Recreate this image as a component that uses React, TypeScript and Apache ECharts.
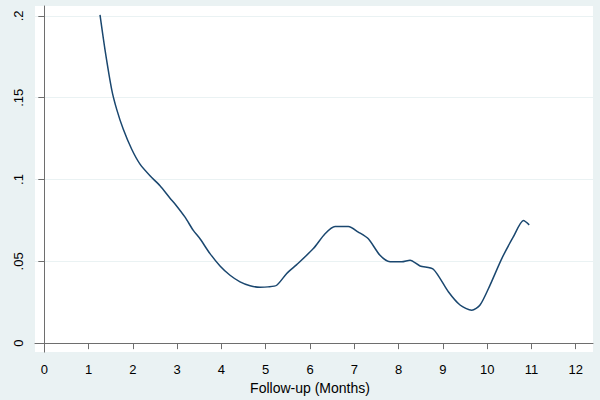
import React, { useEffect, useRef } from "react";
import * as echarts from "echarts";

const months = [
  1.258, 1.371, 1.522, 1.635, 1.784, 1.974, 2.161, 2.387, 2.613, 2.839, 2.952,
  3.178, 3.365, 3.516, 3.742, 3.968, 4.194, 4.42, 4.646, 4.871, 5.05, 5.248,
  5.474, 5.7, 6.075, 6.34, 6.565, 6.866, 7.09, 7.317, 7.58, 7.807, 8.071,
  8.259, 8.485, 8.785, 9.124, 9.388, 9.652, 9.839, 10.065, 10.33, 10.59,
  10.82, 10.95,
];
const hazard = [
  0.2006, 0.1793, 0.155, 0.1429, 0.1307, 0.1185, 0.1094, 0.1023, 0.0962,
  0.0886, 0.0851, 0.077, 0.0689, 0.0638, 0.0547, 0.0472, 0.0415, 0.0375,
  0.0351, 0.0342, 0.0344, 0.0354, 0.0426, 0.048, 0.0578, 0.0669, 0.0713,
  0.0713, 0.0679, 0.0638, 0.0537, 0.0497, 0.0497, 0.0507, 0.0472, 0.0452,
  0.0314, 0.0233, 0.0201, 0.0233, 0.0355, 0.0517, 0.0649, 0.075, 0.0723,
];
const xTicks = [0, 1, 2, 3, 4, 5, 6, 7, 8, 9, 10, 11, 12];
const yTicks = [0, 0.05, 0.1, 0.15, 0.2];

export default function App() {
  const ref = useRef<HTMLDivElement>(null);
  useEffect(() => {
    if (!ref.current) return;
    const chart = echarts.init(ref.current, null, { renderer: "svg" });
    const axisColor = "#6e6e6e";
    const font = "Arial, 'Liberation Sans', sans-serif";
    chart.setOption({
      animation: false,
      backgroundColor: "#EAF2F3",
      grid: {
        left: 35,
        right: 7,
        top: 6,
        bottom: 46,
        show: true,
        backgroundColor: "#ffffff",
        borderWidth: 0,
      },
      xAxis: {
        type: "value",
        min: -0.21,
        max: 12.39,
        name: "Follow-up (Months)",
        nameLocation: "middle",
        nameGap: 24,
        nameTextStyle: {
          color: "#000",
          fontSize: 14,
          fontFamily: font,
          padding: [0, 8, 0, 0],
        },
        axisLine: { show: true, lineStyle: { color: axisColor, width: 1 } },
        axisTick: {
          show: true,
          length: 6,
          customValues: xTicks,
          lineStyle: { color: axisColor },
        },
        axisLabel: {
          customValues: xTicks,
          color: "#000",
          fontSize: 13,
          fontFamily: font,
          margin: 11,
        },
        splitLine: { show: false },
      },
      yAxis: {
        type: "value",
        min: -0.00547,
        max: 0.20608,
        axisLine: { show: true, lineStyle: { color: axisColor, width: 1 } },
        axisTick: {
          show: true,
          length: 6,
          customValues: yTicks,
          lineStyle: { color: axisColor },
        },
        axisLabel: {
          customValues: yTicks,
          rotate: 90,
          color: "#000",
          fontSize: 13,
          fontFamily: font,
          margin: 10,
          formatter: (v: number) =>
            v === 0 ? "0" : String(Math.round(v * 100) / 100).replace(/^0/, ""),
        },
        splitLine: { show: true, lineStyle: { color: "#EAF2F3", width: 1 } },
      },
      series: [
        {
          type: "line",
          data: months.map((m, i) => [m, hazard[i]]),
          showSymbol: false,
          smooth: 0.25,
          lineStyle: { color: "#1A476F", width: 1.5 },
        },
      ],
    });
    return () => chart.dispose();
  }, []);
  return (
    <div
      ref={ref}
      style={{ position: "absolute", left: 0, top: 0, width: 600, height: 400 }}
    />
  );
}
